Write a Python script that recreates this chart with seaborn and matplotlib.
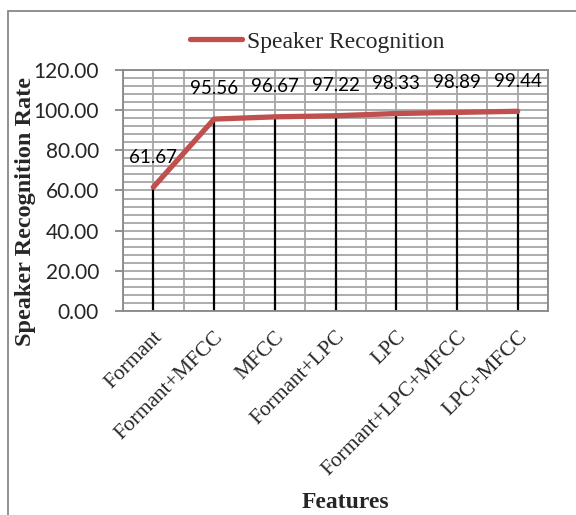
import matplotlib
matplotlib.use("Agg")
import matplotlib.pyplot as plt
import seaborn as sns
import numpy as np
import pandas as pd
from matplotlib.patches import Rectangle

features = ["Formant", "Formant+MFCC", "MFCC", "Formant+LPC", "LPC",
            "Formant+LPC+MFCC", "LPC+MFCC"]
rates = [61.67, 95.56, 96.67, 97.22, 98.33, 98.89, 99.44]
y_ticks = [0, 20, 40, 60, 80, 100, 120]

df = pd.DataFrame({"Features": features, "Rate": rates})

sns.set_theme(style="white")
fig = plt.figure(figsize=(5.76, 5.15), dpi=100)
ax = fig.add_axes([123 / 576, 1 - 311 / 515, (548 - 123) / 576, (311 - 70) / 515])

grid_col = "#a6a6a6"
# gridlines, Excel style
for v in np.arange(0, 121, 4):
    ax.axhline(v, color=grid_col, lw=1.3, zorder=0)
for xv in np.arange(-0.5, len(features), 0.5):
    ax.axvline(xv, color=grid_col, lw=1.3, zorder=0)

# drop lines
pos = np.arange(len(features))
ax.vlines(pos, 0, df["Rate"], color="black", lw=1.6, zorder=2)

sns.lineplot(data=df, x="Features", y="Rate", sort=False, color="#c0504d",
             lw=3.8, ax=ax, zorder=3, label="Speaker Recognition", legend=False)

for i, r in enumerate(rates):
    ax.text(i, r + 15, f"{r:.2f}", ha="center", va="center",
            fontsize=13.5, family="Lato", color="black", zorder=4)

ax.set_xlim(-0.5, len(features) - 0.5)
ax.set_ylim(0, 120)
ax.set_yticks(y_ticks)
ax.set_yticklabels([f"{v:.2f}" for v in y_ticks], fontsize=15, family="Lato")
ax.set_xticks(pos)
ax.set_xticklabels(features, rotation=45, ha="right", rotation_mode="anchor",
                   fontsize=15.5, family="Liberation Serif")
ax.tick_params(axis="y", left=True, length=5.8, width=1.3, color="#888888", pad=11.5)
ax.tick_params(axis="x", bottom=False, pad=6)
for s in ax.spines.values():
    s.set_color("#888888")
    s.set_linewidth(1.3)

ax.set_xlabel("")
ax.set_ylabel("")
fig.text(345 / 576, 1 - 503 / 515, "Features", ha="center", va="center",
         fontsize=17, fontweight="bold", family="Liberation Serif")
fig.text(26 / 576, 1 - 211 / 515, "Speaker Recognition Rate", ha="center",
         va="center", rotation=90, fontsize=17.5, fontweight="bold",
         family="Liberation Serif")

handles, labels = ax.get_legend_handles_labels()
fig.legend(handles, labels, loc="center", bbox_to_anchor=(317 / 576, 1 - 42 / 515),
           frameon=False, handlelength=2.2, handletextpad=0.2,
           prop={"family": "Liberation Serif", "size": 17})

fig.patches.append(Rectangle((8 / 576, -0.1), 1.2, 1 - 11 / 515 + 0.1,
                             transform=fig.transFigure, fill=False,
                             edgecolor="#888888", lw=1.3))

fig.savefig("out.png", dpi=100)
